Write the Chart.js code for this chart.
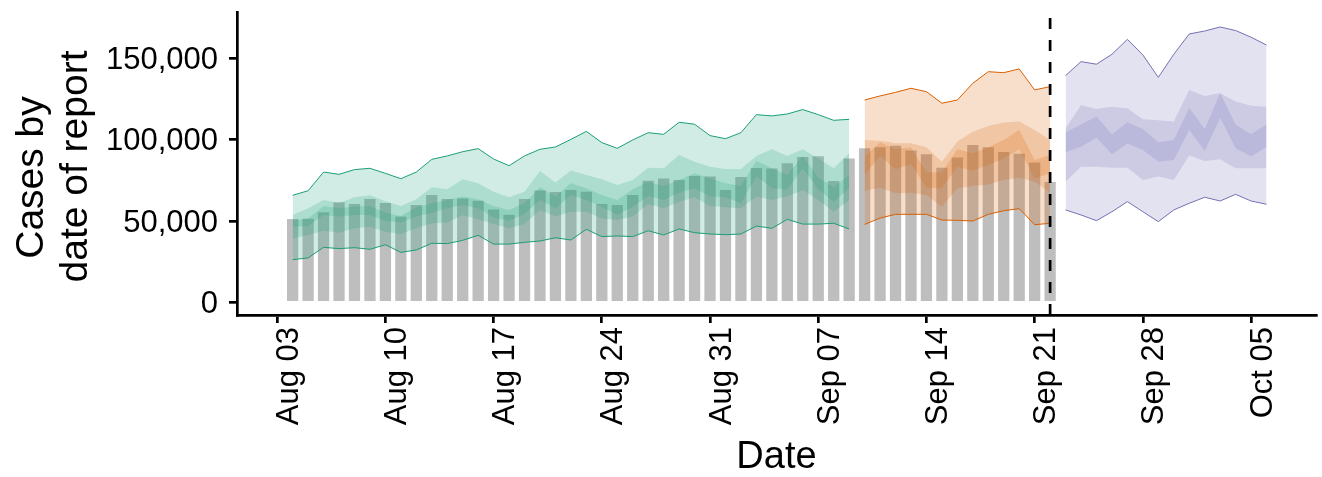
<!DOCTYPE html>
<html>
<head>
<meta charset="utf-8">
<script src="https://cdn.jsdelivr.net/npm/chart.js@4.4.0/dist/chart.umd.min.js"></script>
<style>
  html, body { margin: 0; padding: 0; background: #fff; }
</style>
</head>
<body>
<canvas id="chart" width="1322" height="477"></canvas>
<script>
// x values are days counted from Aug 03
const xTickLabels = ['Aug 03', 'Aug 10', 'Aug 17', 'Aug 24', 'Aug 31', 'Sep 07', 'Sep 14', 'Sep 21', 'Sep 28', 'Oct 05'];
const yTicks = [0, 50000, 100000, 150000];
const yTitleLines = ['Cases by', 'date of report'];

// reported cases, Aug 04 .. Sep 22
const reportedFrom = 1;
const reported = [51200, 51400, 55300, 61500, 60400, 63500, 61100, 52700, 59800, 66000, 63500, 63900,
  62500, 57000, 53900, 63500, 68700, 67800, 69100, 68000, 60500, 59800, 66000, 74800,
  76200, 75200, 77700, 77300, 69100, 77100, 82600, 82200, 85500, 89300, 89800, 74600, 88500,
  94700, 95300, 96300, 93300, 91000, 82800, 89100, 96700, 95300, 92400, 91400, 85900, 74000];

// estimate, Aug 04 .. Sep 09
const estFrom = 1;
const estLower90 = [26200, 27300, 33800, 33000, 33600, 32600, 35400, 30700, 32200, 36300, 36100, 38100, 41200, 35800, 35800, 36900, 37700, 39700, 38300, 44900, 40400, 40800, 40400, 44000, 41400, 45100, 42800, 42000, 41600, 42000, 46900, 45500, 51000, 48100, 48100, 48600, 45100];
const estLower50 = [39300, 41400, 44000, 42800, 45500, 46500, 43400, 42000, 45500, 48600, 49000, 53700, 51000, 48100, 45500, 48100, 56800, 52700, 55700, 55700, 51600, 50600, 52700, 60400, 57800, 61900, 64600, 59200, 58400, 57800, 65000, 62900, 65000, 69100, 62900, 55700, 62900];
const estLower20 = [46500, 46900, 53700, 52700, 53700, 53700, 50200, 49000, 52700, 55100, 57800, 59800, 57800, 52200, 50200, 54300, 62900, 57800, 66000, 62900, 58800, 53700, 58800, 65400, 62900, 67400, 70100, 65000, 64600, 60900, 77700, 70100, 69500, 82400, 69500, 61900, 70100];
const estUpper20 = [50200, 51600, 59200, 57800, 58800, 59200, 55100, 53100, 58400, 60900, 62900, 65000, 63300, 59200, 56800, 60900, 70700, 65000, 73200, 70100, 66000, 62900, 69500, 74200, 71500, 75200, 79300, 76200, 73200, 71500, 87100, 82400, 78300, 90000, 76800, 70700, 78300];
const estUpper50 = [53700, 57800, 62900, 60900, 64600, 65800, 62100, 59200, 63300, 70700, 69500, 75600, 73200, 68000, 64600, 68000, 80700, 73600, 81000, 78300, 75600, 72100, 75200, 82800, 82400, 90600, 86500, 83400, 82000, 82000, 90000, 94100, 90000, 94100, 88500, 82400, 91600];
const estUpper90 = [65800, 68600, 80100, 78700, 81600, 82400, 79300, 76000, 80100, 87900, 90000, 92600, 94500, 88100, 84000, 90000, 94100, 95500, 100200, 105100, 98200, 94700, 99800, 104300, 103300, 110700, 109500, 102500, 100600, 104300, 115400, 114600, 115800, 118500, 115400, 111900, 112500];

// estimate based on partial data, Sep 10 .. Sep 22
const partFrom = 38;
const partLower90 = [47900, 51800, 54100, 54100, 54100, 50600, 50400, 50000, 54100, 56300, 57600, 47700, 48600];
const partLower50 = [68600, 70500, 67000, 67400, 66000, 58800, 70100, 71500, 72500, 75200, 76600, 74200, 67400];
const partLower20 = [78300, 90000, 81800, 85000, 70500, 70100, 83400, 80900, 84400, 88500, 94100, 76200, 79300];
const partUpper20 = [89600, 98200, 94100, 95300, 79900, 79900, 94100, 91600, 95300, 99800, 105900, 87500, 90600];
const partUpper50 = [99800, 99400, 97800, 97800, 95300, 86500, 98800, 104900, 108400, 110500, 111100, 105900, 99800];
const partUpper90 = [124400, 126900, 129100, 131600, 129500, 122400, 124400, 134700, 141800, 141200, 143500, 130600, 132600];

// forecast, Sep 23 .. Oct 06
const fcFrom = 51;
const fcLower90 = [56800, 53700, 50200, 55700, 61900, 55700, 49600, 56800, 60900, 64600, 62300, 66400, 62300, 60300];
const fcLower50 = [74200, 83400, 83400, 82800, 82800, 75200, 77300, 75200, 90200, 86900, 87900, 82400, 82400, 82400];
const fcLower20 = [92200, 95700, 101200, 91000, 97600, 93700, 86500, 87500, 106000, 93000, 113500, 94700, 89600, 95700];
const fcUpper20 = [104500, 109400, 114200, 103300, 110700, 106600, 98400, 99800, 119700, 106600, 128500, 109400, 103300, 109400];
const fcUpper50 = [107000, 121300, 118900, 120300, 119300, 112500, 111900, 111100, 130600, 126900, 128500, 123400, 120900, 120300];
const fcUpper90 = [139400, 148000, 146400, 152500, 161700, 152100, 138300, 152500, 165000, 166800, 169300, 167100, 163000, 158200];

// dashed line on Sep 22
const forecastLineDay = 50;

const FONT = '"Liberation Sans", Arial, Helvetica, sans-serif';
Chart.defaults.font.family = FONT;
Chart.defaults.color = '#000';

function toPoints(from, values) {
  return values.map((v, i) => ({ x: from + i, y: v }));
}

/**
 * Lower + upper line pair, upper one filled down to the lower one
 */
function band(from, lower, upper, rgb, outline) {
  const common = {
    type: 'line',
    pointRadius: 0,
    tension: 0,
    borderWidth: outline ? 1 : 0,
    borderColor: outline ? `rgb(${rgb})` : 'rgba(0,0,0,0)',
    order: 1
  };
  return [
    { ...common, data: toPoints(from, lower), fill: false },
    { ...common, data: toPoints(from, upper), fill: '-1', backgroundColor: `rgba(${rgb},0.2)` }
  ];
}

function ribbons(from, l90, l50, l20, u20, u50, u90, rgb) {
  return [
    ...band(from, l90, u90, rgb, true),
    ...band(from, l50, u50, rgb, false),
    ...band(from, l20, u20, rgb, false)
  ];
}

// dashed vertical line where the forecast starts
const forecastMarker = {
  id: 'forecastMarker',
  afterDatasetsDraw(chart) {
    const { ctx, chartArea, scales } = chart;
    const x = scales.x.getPixelForValue(forecastLineDay);
    ctx.save();
    ctx.strokeStyle = '#000';
    ctx.lineWidth = 2.7;
    ctx.setLineDash([11, 11]);
    ctx.beginPath();
    ctx.moveTo(x, chartArea.bottom);
    ctx.lineTo(x, chartArea.top);
    ctx.stroke();
    ctx.restore();
  }
};

// two line rotated y title, lines a little off-centre like the original
const yTitle = {
  id: 'yTitle',
  afterDraw(chart) {
    const { ctx, chartArea } = chart;
    const mid = (chartArea.top + chartArea.bottom) / 2;
    const shifts = [14, 3];
    const xs = [32, 76];
    ctx.save();
    ctx.font = `39px ${FONT}`;
    ctx.fillStyle = '#000';
    ctx.textAlign = 'center';
    ctx.textBaseline = 'middle';
    yTitleLines.forEach((line, i) => {
      ctx.save();
      ctx.translate(xs[i], mid + shifts[i]);
      ctx.rotate(-Math.PI / 2);
      ctx.fillText(line, 0, 0);
      ctx.restore();
    });
    ctx.restore();
  }
};

const datasets = [
  {
    type: 'bar',
    data: toPoints(reportedFrom, reported),
    backgroundColor: '#BEBEBE',
    categoryPercentage: 1,
    barPercentage: 0.73,
    order: 2
  },
  ...ribbons(estFrom, estLower90, estLower50, estLower20, estUpper20, estUpper50, estUpper90, '27,158,119'),
  ...ribbons(partFrom, partLower90, partLower50, partLower20, partUpper20, partUpper50, partUpper90, '217,95,2'),
  ...ribbons(fcFrom, fcLower90, fcLower50, fcLower20, fcUpper20, fcUpper50, fcUpper90, '117,112,179')
];

const axisLine = { display: true, color: '#000', width: 2.7 };
const tickMarks = { display: true, drawOnChartArea: false, drawTicks: true, tickLength: 8, color: '#000', lineWidth: 2.7, offset: false };

new Chart(document.getElementById('chart').getContext('2d'), {
  type: 'line',
  data: { datasets },
  options: {
    responsive: false,
    animation: false,
    layout: { autoPadding: false, padding: { top: 12, right: 6, left: 0, bottom: 0 } },
    plugins: {
      legend: { display: false },
      tooltip: { enabled: false }
    },
    scales: {
      x: {
        type: 'linear',
        min: -2.6,
        max: 67.2,
        offset: false,
        afterBuildTicks: (axis) => { axis.ticks = xTickLabels.map((_, i) => ({ value: i * 7 })); },
        afterFit: (scale) => {
          scale.height = 162;
          scale.paddingLeft = 0;
          scale.paddingRight = 0;
        },
        ticks: {
          autoSkip: false,
          minRotation: 90,
          maxRotation: 90,
          padding: 4,
          labelOffset: 12,
          font: { size: 31 },
          color: '#000',
          callback: (value, index) => xTickLabels[index]
        },
        grid: tickMarks,
        border: axisLine,
        title: { display: true, text: 'Date', font: { size: 38, lineHeight: 1 }, color: '#000', padding: { top: 0, bottom: 0 } }
      },
      y: {
        type: 'linear',
        min: -7800,
        max: 178500,
        afterBuildTicks: (axis) => { axis.ticks = yTicks.map(v => ({ value: v })); },
        afterFit: (scale) => {
          scale.width = 237;
          scale.paddingTop = 0;
          scale.paddingBottom = 0;
        },
        ticks: {
          padding: 11,
          labelOffset: 2,
          font: { size: 31 },
          color: '#000',
          callback: (value) => value.toLocaleString('en-US')
        },
        grid: tickMarks,
        border: axisLine
      }
    }
  },
  plugins: [forecastMarker, yTitle]
});
</script>
</body>
</html>
